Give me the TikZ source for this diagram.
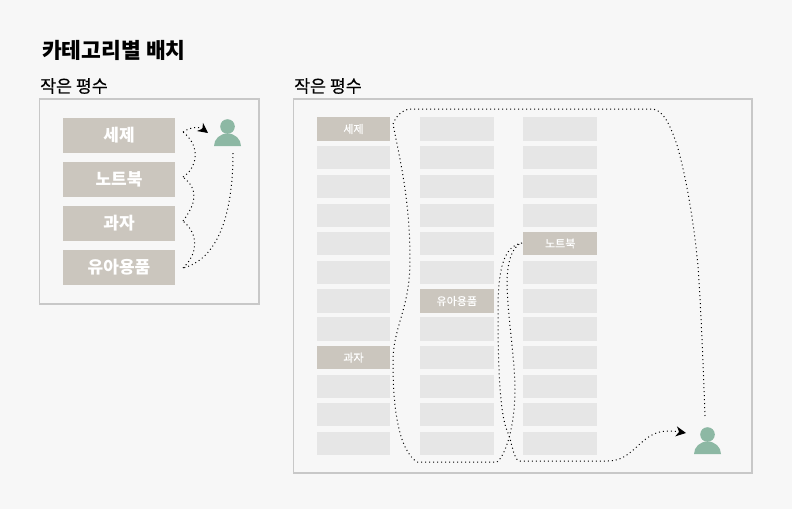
\documentclass[tikz,border=0pt]{standalone}
\usepackage{fontspec}
\setmainfont{Noto Sans CJK KR}
\usetikzlibrary{arrows.meta}
\definecolor{pagegray}{HTML}{F7F7F7}
\definecolor{framegray}{HTML}{C8C8C8}
\definecolor{shelftan}{HTML}{CBC6BE}
\definecolor{cellgray}{HTML}{E6E6E6}
\definecolor{shoppergreen}{HTML}{8DB8A4}
\tikzset{
  heading/.style={anchor=west, inner sep=0pt, font=\fontsize{21.5}{21}\selectfont\bfseries},
  subheading/.style={anchor=west, inner sep=0pt, font=\fontsize{17.3}{17}\selectfont\addfontfeature{FakeBold=0.3}},
  floorframe/.style={draw=framegray, fill=pagegray, line width=1.1pt},
  bigshelf/.style={fill=shelftan, text=white, minimum width=112pt, minimum height=35pt, inner sep=0pt, font=\fontsize{17}{17}\selectfont\bfseries},
  cell/.style={fill=cellgray, minimum width=73.6pt, minimum height=23.4pt, inner sep=0pt},
  pickcell/.style={cell, fill=shelftan, text=white, font=\fontsize{11}{11}\selectfont\addfontfeature{FakeBold=0.6}},
  route/.style={black, line width=1pt, dash pattern=on 1pt off 3pt},
  routeend/.style={route, -{Stealth[length=10pt,width=10pt,inset=3pt]}}
}
\newcommand{\shopper}[1]{%
  \fill[shoppergreen] (#1) ++(0,-7.5) circle (7.3);
  \fill[shoppergreen] (#1) ++(-13.5,12) arc[start angle=180, end angle=360, x radius=13.5, y radius=12.5] -- cycle;
}

\begin{document}
\begin{tikzpicture}[x=1pt,y=-1pt]
\useasboundingbox (0,0) rectangle (792,509);
\fill[pagegray] (0,0) rectangle (792,509);
\node[heading] (title) at (42,50) {카테고리별 배치};
\node[subheading] (smallA) at (40,86) {작은 평수};
\node[subheading] (smallB) at (294,86) {작은 평수};
\draw[floorframe] (39.5,99) rectangle (259,304);
\draw[floorframe] (293.5,99) rectangle (752,473);
% small store
\node[bigshelf] (detergent) at (119,135.5) {세제};
\node[bigshelf] (notebook) at (119,179.5) {노트북};
\node[bigshelf] (snack) at (119,223.5) {과자};
\node[bigshelf] (baby) at (119,267.5) {유아용품};
\coordinate (shopperA) at (227.5,134);
\shopper{shopperA}
\coordinate (startA) at (233,153);
\coordinate (babyA) at (183,268);
\coordinate (snackA) at (183,221);
\coordinate (noteA) at (183,177);
\coordinate (detA) at (183,132);
\coordinate (endA) at (208,133);
\draw[route] (startA) .. controls (233,205) and (222,258) .. (babyA);
\draw[route] (babyA) .. controls (197,255) and (200,235) .. (snackA);
\draw[route] (snackA) .. controls (195,205) and (200,190) .. (noteA);
\draw[route] (noteA) .. controls (195,170) and (203,148) .. (detA);
\draw[routeend] (detA) .. controls (192,126) and (200,127) .. (endA);
% large store, left column
\node[pickcell] (a1) at (353.5,129) {세제};
\node[cell] (a2) at (353.5,157.7) {};
\node[cell] (a3) at (353.5,186.7) {};
\node[cell] (a4) at (353.5,215.5) {};
\node[cell] (a5) at (353.5,243.5) {};
\node[cell] (a6) at (353.5,272.5) {};
\node[cell] (a7) at (353.5,301) {};
\node[cell] (a8) at (353.5,329) {};
\node[pickcell] (a9) at (353.5,357.7) {과자};
\node[cell] (a10) at (353.5,386.5) {};
\node[cell] (a11) at (353.5,414.3) {};
\node[cell] (a12) at (353.5,443.3) {};
% middle column
\node[cell] (b1) at (456.8,129) {};
\node[cell] (b2) at (456.8,157.7) {};
\node[cell] (b3) at (456.8,186.7) {};
\node[cell] (b4) at (456.8,215.5) {};
\node[cell] (b5) at (456.8,243.5) {};
\node[cell] (b6) at (456.8,272.5) {};
\node[pickcell] (b7) at (456.8,301) {유아용품};
\node[cell] (b8) at (456.8,329) {};
\node[cell] (b9) at (456.8,357.7) {};
\node[cell] (b10) at (456.8,386.5) {};
\node[cell] (b11) at (456.8,414.3) {};
\node[cell] (b12) at (456.8,443.3) {};
% right column
\node[cell] (c1) at (560.2,129) {};
\node[cell] (c2) at (560.2,157.7) {};
\node[cell] (c3) at (560.2,186.7) {};
\node[cell] (c4) at (560.2,215.5) {};
\node[pickcell] (c5) at (560.2,243.5) {노트북};
\node[cell] (c6) at (560.2,272.5) {};
\node[cell] (c7) at (560.2,301) {};
\node[cell] (c8) at (560.2,329) {};
\node[cell] (c9) at (560.2,357.7) {};
\node[cell] (c10) at (560.2,386.5) {};
\node[cell] (c11) at (560.2,414.3) {};
\node[cell] (c12) at (560.2,443.3) {};
\coordinate (shopperB) at (707.5,442);
\shopper{shopperB}
% route through the large store
\coordinate (startB) at (705,416);
\coordinate (topR) at (653,109);
\coordinate (topL) at (410,109);
\coordinate (detB) at (393,124);
\coordinate (snackB) at (393,363);
\coordinate (botL) at (417,462);
\coordinate (botM) at (497,462);
\coordinate (noteB) at (522,243);
\coordinate (botR) at (520,461);
\coordinate (endB) at (686,433);
\draw[route] (startB) .. controls (703,360) and (701,310) .. (698,266) .. controls (694,225) and (687,180) .. (677,145) .. controls (670,125) and (664,111) .. (topR) -- (topL) .. controls (402,110) and (396,116) .. (detB) .. controls (400,160) and (410,200) .. (410,260) .. controls (410,310) and (393,325) .. (snackB) .. controls (393,410) and (399,450) .. (botL) -- (botM) .. controls (506,455) and (515,425) .. (515,390) .. controls (515,360) and (508,320) .. (507,285) .. controls (507,262) and (512,246) .. (noteB);
\draw[routeend] (noteB) .. controls (505,246) and (498,265) .. (498,310) .. controls (498,370) and (500,420) .. (509,435) .. controls (513,450) and (515,461) .. (botR) -- (608,461) .. controls (635,461) and (640,431) .. (668,431) .. controls (675,431) and (680,432) .. (endB);
\end{tikzpicture}
\end{document}
